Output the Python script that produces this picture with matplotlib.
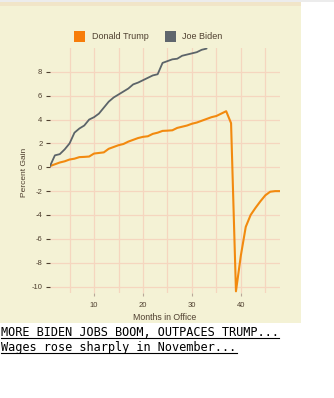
import matplotlib
matplotlib.use("Agg")
import matplotlib.pyplot as plt
from matplotlib.patches import Rectangle
from matplotlib.lines import Line2D

# ---- data (percent gain in jobs vs. month in office) ----
trump_months = list(range(1, 49))
trump_gain = [0.1, 0.25, 0.4, 0.5, 0.65, 0.72, 0.85, 0.87, 0.9, 1.15,
              1.2, 1.25, 1.55, 1.7, 1.85, 1.95, 2.15, 2.3, 2.45, 2.55,
              2.6, 2.8, 2.9, 3.05, 3.07, 3.1, 3.3, 3.4, 3.5, 3.65,
              3.75, 3.9, 4.05, 4.2, 4.3, 4.5, 4.7, 3.7, -10.4, -7.4,
              -5.0, -4.0, -3.4, -2.85, -2.35, -2.05, -2.0, -2.0]
biden_months = list(range(1, 34))
biden_gain = [0.1, 1.0, 1.1, 1.5, 2.0, 2.9, 3.25, 3.5, 4.0, 4.2,
              4.5, 5.0, 5.5, 5.85, 6.1, 6.35, 6.6, 6.95, 7.1, 7.3,
              7.5, 7.7, 7.8, 8.75, 8.9, 9.05, 9.1, 9.35, 9.45, 9.55,
              9.65, 9.85, 9.95]
series_names = ["Donald Trump", "Joe Biden"]
x_ticks = [10, 20, 30, 40]
x_grid = [5, 10, 15, 20, 25, 30, 35, 40, 45]
y_ticks = [-10, -8, -6, -4, -2, 0, 2, 4, 6, 8]
headlines = ["MORE BIDEN JOBS BOOM, OUTPACES TRUMP...",
             "Wages rose sharply in November..."]

W, H = 334, 398
fig = plt.figure(figsize=(W / 100, H / 100), dpi=100)
fig.patch.set_facecolor("white")

def fx(px):
    return px / W

def fy(py):
    return 1 - py / H

cream = "#f4f2d5"
grid_c = "#f5d6bf"
text_c = "#4f4030"
trump_c = "#f28a0f"
biden_c = "#5c6469"

# background panel
fig.patches.append(Rectangle((0, fy(323)), fx(301), 1 - fy(323),
                             transform=fig.transFigure, facecolor=cream,
                             edgecolor="none", zorder=-5))
fig.patches.append(Rectangle((0, fy(6)), fx(301), fy(1.5) - fy(6),
                             transform=fig.transFigure, facecolor="#f1e5c8",
                             edgecolor="none", zorder=-4))
fig.patches.append(Rectangle((0, fy(1.5)), 1, 1 - fy(1.5),
                             transform=fig.transFigure, facecolor="#ececec",
                             edgecolor="none", zorder=-4))

ax = fig.add_axes([fx(50), fy(292.5), fx(280) - fx(50), fy(48) - fy(292.5)])
ax.set_zorder(2)
ax.set_facecolor("none")
ax.set_xlim(1, 48)
ax.set_ylim(-10.5, 10)
for s in ax.spines.values():
    s.set_visible(False)

for g in x_grid:
    ax.axvline(g, color=grid_c, lw=0.9, zorder=1)
for g in y_ticks:
    ax.axhline(g, color=grid_c, lw=0.9, zorder=1)

ax.plot(trump_months, trump_gain, color=trump_c, lw=1.5, zorder=3,
        solid_joinstyle="round", solid_capstyle="round")
ax.plot(biden_months, biden_gain, color=biden_c, lw=1.3, zorder=3,
        solid_joinstyle="round", solid_capstyle="round")

ax.set_xticks(x_ticks)
ax.set_yticks(y_ticks)
ax.set_yticklabels([str(v) for v in y_ticks])
ax.tick_params(axis="y", length=3, width=0.8, color=text_c, pad=2.5,
               labelsize=5.5, labelcolor=text_c)
ax.tick_params(axis="x", length=2.5, width=0.8, color="#b8a898", pad=4.5,
               labelsize=5.5, labelcolor=text_c)
for lab in ax.get_xticklabels() + ax.get_yticklabels():
    lab.set_family("Liberation Sans")

ax.set_xlabel("Months in Office", fontsize=6.3, color=text_c,
              family="Liberation Sans", labelpad=3)
fig.text(fx(25), fy(172), "Percent Gain", rotation=90, fontsize=6,
         color=text_c, family="Liberation Sans", ha="center", va="center")

# legend
leg_y = 36.5
for (sx, tx, col, name) in [(74, 91.5, "#f77d0a", series_names[0]),
                            (165, 181.5, "#5f666d", series_names[1])]:
    fig.patches.append(Rectangle((fx(sx), fy(leg_y + 5.5)), fx(11),
                                 fy(leg_y - 5.5) - fy(leg_y + 5.5),
                                 transform=fig.transFigure, facecolor=col,
                                 edgecolor="none", zorder=2))
    fig.text(fx(tx), fy(leg_y), name, fontsize=6.5, color=text_c,
             family="Liberation Sans", ha="left", va="center")

# headlines
for i, (txt, base) in enumerate(zip(headlines, [336, 351])):
    fig.text(fx(1), fy(base), txt, fontsize=8.55, color="black",
             family="DejaVu Sans Mono", ha="left", va="baseline")
    n = len(txt)
    fig.add_artist(Line2D([fx(1), fx(1 + n * 7.14)], [fy(base + 1.5)] * 2,
                          transform=fig.transFigure, color="black", lw=0.8))

fig.savefig("out.png", dpi=100, facecolor=fig.get_facecolor())
